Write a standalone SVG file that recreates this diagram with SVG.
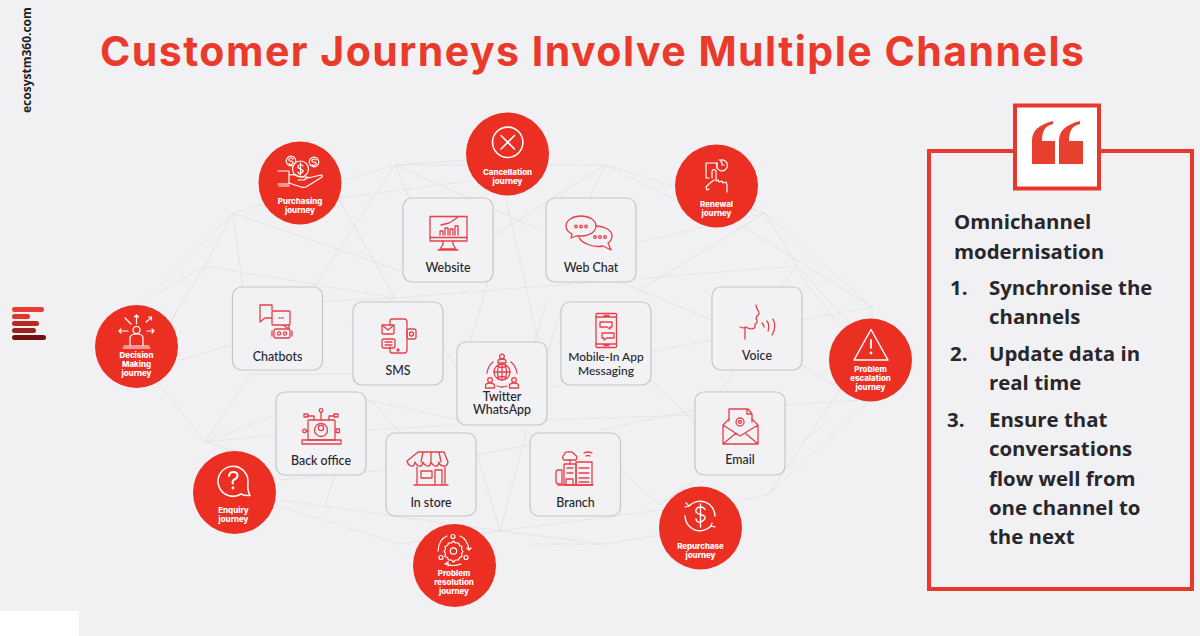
<svg xmlns="http://www.w3.org/2000/svg" width="1200" height="636" viewBox="0 0 1200 636">
<style>
text{font-family:"Lato","Liberation Sans",sans-serif}
.bx{fill:#f2f1f4;stroke:#c6c6c8;stroke-width:1.2}
.lb{font-size:12.4px;fill:#26262b;text-anchor:middle;font-weight:500}
.ci{fill:#eb2f23}
.cl{font-family:"Inter","Liberation Sans",sans-serif;font-size:7.9px;font-weight:800;fill:#fff;text-anchor:middle}
.ri{fill:none;stroke:#e6404a;stroke-width:1.3;stroke-linejoin:round;stroke-linecap:round}
.wi{fill:none;stroke:#fff;stroke-width:1.2;stroke-linejoin:round;stroke-linecap:round}
.net line{stroke:#e0e0e3;stroke-width:.8}
.nd{stroke-dasharray:12 2 5 2}
.pt{font-family:"Open Sans","Liberation Sans",sans-serif;font-size:20.4px;font-weight:700;fill:#27272c}
</style>
<rect width="1200" height="636" fill="#f1f0f3"/>
<rect x="0" y="611" width="79" height="25" fill="#fff"/>
<text x="31" y="113" transform="rotate(-90 31 113)" style="font-family:'Open Sans','Liberation Sans',sans-serif;font-size:12px;font-weight:700;fill:#1f1f24">ecosystm360.com</text>
<g id="logo">
<rect x="12" y="307" width="32" height="5" rx="2.5" fill="#ee3a2f"/>
<rect x="12" y="314" width="18" height="5" rx="2.5" fill="#e0352a"/>
<rect x="12" y="321" width="27" height="5" rx="2.5" fill="#b92a22"/>
<rect x="12" y="328" width="24" height="5" rx="2.5" fill="#9c211b"/>
<rect x="12" y="335" width="34" height="5" rx="2.5" fill="#711410"/>
</g>
<text x="100" y="66" textLength="984" lengthAdjust="spacing" style="font-family:'Inter','Liberation Sans',sans-serif;font-size:41px;font-weight:700;fill:#e93a2c">Customer Journeys Involve Multiple Channels</text>

<g id="connectors" class="net">
<line x1="233" y1="213" x2="395" y2="165" class="nd"/><line x1="395" y1="165" x2="605" y2="165" class="nd"/><line x1="605" y1="165" x2="765" y2="213" class="nd"/><line x1="765" y1="213" x2="872" y2="307" class="nd"/>
<line x1="233" y1="213" x2="136" y2="310" class="nd"/><line x1="233" y1="213" x2="205" y2="266"/><line x1="205" y1="266" x2="165" y2="330"/><line x1="205" y1="266" x2="155" y2="295" class="nd"/>
<line x1="233" y1="213" x2="243" y2="290"/><line x1="233" y1="213" x2="403" y2="272"/><line x1="205" y1="266" x2="395" y2="298" class="nd"/>
<line x1="395" y1="165" x2="312" y2="290"/><line x1="395" y1="165" x2="410" y2="200"/><line x1="395" y1="165" x2="466" y2="160"/><line x1="338" y1="198" x2="395" y2="298"/><line x1="340" y1="198" x2="470" y2="181" class="nd"/>
<line x1="395" y1="165" x2="540" y2="230"/><line x1="395" y1="298" x2="797" y2="266" class="nd"/><line x1="395" y1="298" x2="250" y2="305" class="nd"/><line x1="395" y1="298" x2="345" y2="325"/>
<line x1="505" y1="195" x2="538" y2="340"/><line x1="605" y1="165" x2="590" y2="198"/><line x1="605" y1="165" x2="495" y2="235"/><line x1="605" y1="165" x2="675" y2="200" class="nd"/>
<line x1="636" y1="243" x2="765" y2="213" class="nd"/><line x1="765" y1="213" x2="640" y2="290"/><line x1="765" y1="213" x2="797" y2="266"/><line x1="740" y1="225" x2="872" y2="307"/><line x1="797" y1="266" x2="860" y2="335"/><line x1="797" y1="266" x2="770" y2="300"/><line x1="800" y1="275" x2="835" y2="320"/>
<line x1="590" y1="270" x2="712" y2="320"/><line x1="650" y1="352" x2="712" y2="340" class="nd"/><line x1="802" y1="320" x2="872" y2="307" class="nd"/><line x1="872" y1="307" x2="872" y2="320"/><line x1="802" y1="365" x2="850" y2="395"/>
<line x1="785" y1="405" x2="860" y2="400" class="nd"/><line x1="735" y1="370" x2="720" y2="392"/><line x1="870" y1="345" x2="768" y2="495"/><line x1="870" y1="400" x2="768" y2="495" class="nd"/><line x1="785" y1="455" x2="830" y2="420" class="nd"/><line x1="742" y1="500" x2="768" y2="495" class="nd"/>
<line x1="650" y1="380" x2="735" y2="460"/><line x1="545" y1="420" x2="695" y2="415" class="nd"/><line x1="600" y1="430" x2="695" y2="410" class="nd"/><line x1="620" y1="470" x2="660" y2="505"/><line x1="695" y1="480" x2="660" y2="505"/>
<line x1="500" y1="531" x2="660" y2="510" class="nd"/><line x1="500" y1="531" x2="604" y2="544"/><line x1="604" y1="544" x2="660" y2="535"/><line x1="530" y1="544" x2="604" y2="544" class="nd"/>
<line x1="500" y1="531" x2="476" y2="450"/><line x1="500" y1="531" x2="527" y2="430"/><line x1="476" y1="455" x2="530" y2="445"/><line x1="500" y1="531" x2="280" y2="500" class="nd"/><line x1="399" y1="544" x2="276" y2="505" class="nd"/><line x1="399" y1="544" x2="500" y2="531"/>
<line x1="205" y1="442" x2="250" y2="375"/><line x1="205" y1="442" x2="160" y2="385"/><line x1="205" y1="442" x2="276" y2="435" class="nd"/><line x1="205" y1="442" x2="276" y2="415" class="nd"/><line x1="205" y1="442" x2="235" y2="451"/>
<line x1="180" y1="360" x2="232" y2="345"/><line x1="250" y1="374" x2="355" y2="374"/><line x1="366" y1="400" x2="460" y2="420" class="nd"/><line x1="366" y1="430" x2="457" y2="425" class="nd"/><line x1="373" y1="402" x2="400" y2="433"/><line x1="280" y1="480" x2="386" y2="470" class="nd"/><line x1="335" y1="475" x2="325" y2="505"/>
<line x1="443" y1="345" x2="457" y2="370"/><line x1="547" y1="390" x2="561" y2="385"/><line x1="547" y1="355" x2="561" y2="310"/><line x1="488" y1="282" x2="470" y2="342"/><line x1="547" y1="300" x2="535" y2="340"/>
</g>

<g id="node-website"><rect class="bx" x="403" y="198" width="90" height="84" rx="9"/>
<g class="ri"><rect x="430" y="216.500" width="37" height="24.500"/><path d="M430 237.500H467M443 241v3.500l-3 4.500h16l-3-4.500V241M438 250h20M441 225l8-2 5-3 4-3"/><path d="M440 235v-4h3v4M445 235v-7h3v7M450 235v-6h3v6M455 235v-9h3v9"/></g>
<text class="lb" x="448" y="271.500">Website</text></g>
<g id="node-webchat"><rect class="bx" x="546" y="198" width="90" height="84" rx="9"/>
<g class="ri"><path d="M581 216c8 0 15 4 15 10s-7 10-15 10h-5l-5 2 1-4c-4-2-6-5-6-8 0-6 7-10 15-10z"/><path d="M596 226c8 0 16 4 16 10 0 3-1 5-4 7l3 7-8-4c-10 2-22-3-24-9"/><circle cx="576" cy="226.500" r="1.300"/><circle cx="581" cy="226.500" r="1.300"/><circle cx="586" cy="226.500" r="1.300"/><circle cx="595" cy="237" r="1.300"/><circle cx="600" cy="237" r="1.300"/><circle cx="605" cy="237" r="1.300"/></g>
<text class="lb" x="591" y="271.500">Web Chat</text></g>
<g id="node-chatbots"><rect class="bx" x="232.500" y="287" width="90" height="83" rx="9"/>
<g class="ri"><path d="M272 310v-5h-12v17l5-4h7"/><rect x="272" y="311" width="18" height="14" rx="1"/><path d="M283 325l6 4v-4M279 318h.5M281 318h.5M283 318h.5"/><rect x="274" y="329" width="16" height="9" rx="2"/><circle cx="279" cy="333.500" r="1.600"/><circle cx="285" cy="333.500" r="1.600"/><path d="M272 331v5M292 331v5"/></g>
<text class="lb" x="277.500" y="360.500">Chatbots</text></g>
<g id="node-sms"><rect class="bx" x="353" y="302" width="90" height="83" rx="9"/>
<g class="ri"><path d="M390 325v-4q0-2 2-2h12q3 0 3 3v28q0 3-3 3h-12q-2 0-2-2v-4"/><rect x="382" y="325" width="12" height="9" rx="1"/><path d="M382 325l6 5 6-5"/><rect x="407" y="329" width="9" height="10" rx="2"/><circle cx="411.500" cy="334" r="2"/><rect x="382" y="339" width="13" height="9" rx="2"/><path d="M385 342h7M385 345h7"/><circle cx="398" cy="350" r="1"/></g>
<text class="lb" x="398" y="374.500">SMS</text></g>
<g id="node-twitter"><rect class="bx" x="457" y="342" width="90" height="83" rx="9"/>
<g class="ri"><circle cx="502" cy="372" r="8"/><path d="M494 372h16M502 364v16M497 366q5 3 10 0M497 378q5-3 10 0M499 365q-3 7 0 14M505 365q3 7 0 14"/><circle cx="502" cy="356.500" r="2.300"/><path d="M498 363v-1.500q0-2.500 4-2.500t4 2.500v1.500z"/><circle cx="490" cy="380" r="2.300"/><path d="M485.500 388v-2q0-3 4.500-3t4.500 3v2z"/><circle cx="514" cy="380" r="2.300"/><path d="M509.500 388v-2q0-3 4.500-3t4.500 3v2z"/><path d="M493 362q-5 4-6 11M511 362q5 4 6 11M497 386q5 2 10 0"/></g>
<text class="lb" x="502" y="400.500">Twitter</text><text class="lb" x="502" y="414">WhatsApp</text></g>
<g id="node-mobile"><rect class="bx" x="561" y="302" width="90" height="83" rx="9"/>
<g class="ri"><rect x="596" y="313.500" width="20.500" height="34" rx="1"/><path d="M596 317h20.500M596 344h20.500M604 315.500h5M604 345.500h5"/><path d="M600 322h12v5h-2v2l-3-2h-7zM602 333h12v5h-7l-3 2v-2h-2z"/></g>
<text class="lb" x="606" y="361" style="font-size:12px">Mobile-In App</text><text class="lb" x="606" y="375" style="font-size:12px">Messaging</text></g>
<g id="node-voice"><rect class="bx" x="712" y="287" width="90" height="83" rx="9"/>
<g class="ri"><path d="M756 305c0 5 4 6 3 9l-2 2-1 3 1 1v3l-2 1 0 3c-1 3-6 2-9 0-1 0-1 1-1 3v9M740 327c2 1 5 1 6 0"/><path d="M762 323q2 2 2 4M767 321q3 4 1 10M773 319q4 8-1 16"/></g>
<text class="lb" x="757" y="359.500">Voice</text></g>
<g id="node-backoffice"><rect class="bx" x="276" y="392" width="90" height="83" rx="9"/>
<g class="ri"><rect x="308" y="420" width="27" height="20" rx="1"/><path d="M302 440h39v4h-39zM321 412v8"/><circle cx="321" cy="410.500" r="1.800"/><circle cx="321" cy="428" r="2.600"/><circle cx="321" cy="430" r="6.500"/><rect x="304" y="414" width="4" height="3"/><path d="M308 416h6v4M329 420v-4h5"/><rect x="334" y="414" width="4" height="3"/><circle cx="304.500" cy="431" r="1.800"/><path d="M306 431h2"/><rect x="336" y="429" width="3.500" height="3.500"/></g>
<text class="lb" x="321" y="464.500">Back office</text></g>
<g id="node-instore"><rect class="bx" x="386" y="433" width="90" height="83" rx="9"/>
<g class="ri"><path d="M418 452h26l4 10q-1 5-5 4t-4-4q-1 5-4 4t-4-4q-1 5-4 4t-4-4q-1 5-4 4t-4-4q-1 5-4 4t-4-5zM423 452l-2 10M431 452v10M439 452l2 10M417 467v18M445 467v18M414 485h34"/><rect x="421" y="471" width="11" height="7"/><path d="M435 485v-15h7v15"/></g>
<text class="lb" x="431" y="506.500">In store</text></g>
<g id="node-branch"><rect class="bx" x="530" y="433" width="90.500" height="83" rx="9"/>
<g class="ri"><rect x="564" y="464" width="12" height="21"/><rect x="576" y="462" width="16" height="23"/><path d="M558 485h35M566 485v-6h7v6M570 464v-4h-6q-3-3 0-5 1-4 5-3 4-1 6 3 3 1 1 5h-6"/><path d="M558 470q-2 0-2 3v8q0 3 2 3h4v-14zM567 468h6M567 473h6M579 468h10M579 473h10M579 478h10M579 482h10M584 453q4-2 8 0M586 456q2-1 4 0"/></g>
<text class="lb" x="575.500" y="506.500">Branch</text></g>
<g id="node-email"><rect class="bx" x="695" y="392" width="90" height="83" rx="9"/>
<g class="ri"><path d="M729 421v-12h19l4 5v8M747 409v5h5"/><path d="M729 419l-6 6v19h35v-19l-6-6M723 425l17 11 18-11M723 444l13-11M758 444l-13-11"/><circle cx="740" cy="422" r="4"/><circle cx="740" cy="422" r="1.500"/></g>
<text class="lb" x="740" y="463.500">Email</text></g>

<g id="node-purchasing"><circle class="ci" cx="300" cy="183" r="41.500"/>
<g class="wi"><circle cx="291" cy="161" r="4.800"/><circle cx="314" cy="162" r="4.800"/><circle cx="300.500" cy="169" r="8" fill="#eb2f23"/>
<path d="M303 166q-1-1.500-2.500-1.500t-2.500 1.500 2.500 3 2.500 2.500-2.500 2-2.500-1.500M300.500 163v12M293 159q-1-1-2-1t-2 1.200 2 2 2 2-2 1.500-2-1M316 160q-1-1-2-1t-2 1.200 2 2 2 2-2 1.500-2-1"/>
<path d="M278 171h11v13h-11M279 186h10M289 175c5-1 8 0 11 2h8l-4 3h-6M308 178l13-3q2 0 1 2l-16 10q-4 1-8-1l-9-3"/></g>
<text class="cl" x="300" y="204">Purchasing</text><text class="cl" x="300" y="213">journey</text></g>
<g id="node-cancellation"><circle class="ci" cx="507.500" cy="154" r="41.500"/>
<g class="wi"><circle cx="507.700" cy="142.300" r="15.200" stroke-width="1.600"/><path d="M501 135.500l13.500 13.500M514.500 135.500l-13.500 13.500" stroke-width="1.600"/></g>
<text class="cl" x="507.500" y="175">Cancellation</text><text class="cl" x="507.500" y="184">journey</text></g>
<g id="node-renewal"><circle class="ci" cx="716.500" cy="186" r="41.500"/>
<g class="wi" stroke-width="1.400"><path d="M709 178h-3v-15h11v5M717 166v-1M712 178v-7q1-2 3-1l1 1v10l2-1 1 2 3-1 1 2 3-1 1 3v7"/><path d="M714 180l-5 4-3 3 1 3 2-1"/><path d="M721 160a5.500 5.500 0 1 1-4 3M722 162v3h2M719 160l2 0 0 2"/></g>
<text class="cl" x="716.500" y="207">Renewal</text><text class="cl" x="716.500" y="216">journey</text></g>
<g id="node-escalation"><circle class="ci" cx="870.500" cy="360" r="41.500"/>
<g class="wi"><path d="M871 329.500l17 30.500h-34z" stroke-width="1.500"/><path d="M871 340v8" stroke-width="1.800"/><circle cx="871" cy="353" r=".8"/></g>
<text class="cl" x="870.500" y="372">Problem</text><text class="cl" x="870.500" y="381">escalation</text><text class="cl" x="870.500" y="390">journey</text></g>
<g id="node-decision"><circle class="ci" cx="136.500" cy="346.500" r="41.500"/>
<g class="wi"><circle cx="136.500" cy="330" r="3.500"/><path d="M130 345v-7q0-4 6.500-4t6.500 4v7M124 346h25M123 348h27M136.500 324v-9M134.500 317l2-2 2 2M125 318l6 6M146 322l5-4M148.500 317h3v3M119 331h9M147 331h7M121 329l-2 2 2 2M152 329l2 2-2 2"/></g>
<text class="cl" x="136.500" y="358">Decision</text><text class="cl" x="136.500" y="367">Making</text><text class="cl" x="136.500" y="376">journey</text></g>
<g id="node-enquiry"><circle class="ci" cx="234.500" cy="492.500" r="41.500"/>
<g class="wi"><path d="M248 481A15 15 0 1 0 241 494Q245 496 250 495.500Q247 490 248 481z" stroke-width="1.500"/><path d="M229 476q.5-4 4.500-4t4 3.500q0 2.500-3 4t-1.500 4" stroke-width="2"/><circle cx="233" cy="488" r=".8"/></g>
<text class="cl" x="233.500" y="513">Enquiry</text><text class="cl" x="233.500" y="522">journey</text></g>
<g id="node-resolution"><circle class="ci" cx="454.500" cy="565.500" r="41.500"/>
<g class="wi"><circle cx="453.500" cy="551" r="3.200"/><path d="M453.500 543l2 2 3 0 1 2.500 2.500 1-.5 3 1.500 2-1.500 2 .5 3-2.500 1-1 2.500-3 0-2 2-2-2-3 0-1-2.500-2.500-1 .5-3-1.500-2 1.500-2-.5-3 2.500-1 1-2.500 3 0z" transform="translate(0 -2)"/><circle cx="453" cy="536.500" r="2"/><circle cx="441" cy="557.500" r="2"/><circle cx="466" cy="557.500" r="2"/><path d="M447 536q-8 3-9 15M460 536q7 3 9 13M467 548l2 2 2-2M446 564q7 3 15 0M445 564l3-2v4"/></g>
<text class="cl" x="454" y="576">Problem</text><text class="cl" x="454" y="585">resolution</text><text class="cl" x="454" y="594">journey</text></g>
<g id="node-repurchase"><circle class="ci" cx="700.500" cy="528" r="41.500"/>
<g class="wi"><path d="M689 506A15 15 0 0 1 715 516M711 526A15 15 0 0 1 685 516" stroke-width="1.400"/><path d="M686 503l3 3-4 1M712 523l-1 3 4 1"/><path d="M705 510.500q-1-2.500-4.500-2.500t-4.500 3 4.500 4.500 4.500 4-4.500 3.500-4.500-3M700.500 505v23" stroke-width="1.400" transform="translate(0 -1)"/></g>
<text class="cl" x="700.500" y="549">Repurchase</text><text class="cl" x="700.500" y="558">journey</text></g>

<g id="panel">
<rect x="929" y="151" width="263" height="438" fill="none" stroke="#e8382c" stroke-width="4"/>
<rect x="1015" y="105.500" width="84" height="83" fill="#fff" stroke="#e8382c" stroke-width="4"/>
<path d="M1032 164v-23c0-10 6-16 21-20v3c-8 2-11 7-11 17h13v23zM1059 164v-23c0-10 6-16 21-20v3c-8 2-11 7-11 17h14v23z" fill="#e8402f"/>
<text class="pt" x="954" y="229">Omnichannel</text><text class="pt" x="954" y="259">modernisation</text>
<text class="pt" x="950" y="295">1.</text><text class="pt" x="989" y="295">Synchronise the</text><text class="pt" x="989" y="324">channels</text>
<text class="pt" x="950" y="361">2.</text><text class="pt" x="989" y="361">Update data in</text><text class="pt" x="989" y="390">real time</text>
<text class="pt" x="947" y="427">3.</text><text class="pt" x="989" y="427">Ensure that</text><text class="pt" x="989" y="456">conversations</text><text class="pt" x="989" y="486">flow well from</text><text class="pt" x="989" y="515">one channel to</text><text class="pt" x="989" y="544">the next</text>
</g>
</svg>
